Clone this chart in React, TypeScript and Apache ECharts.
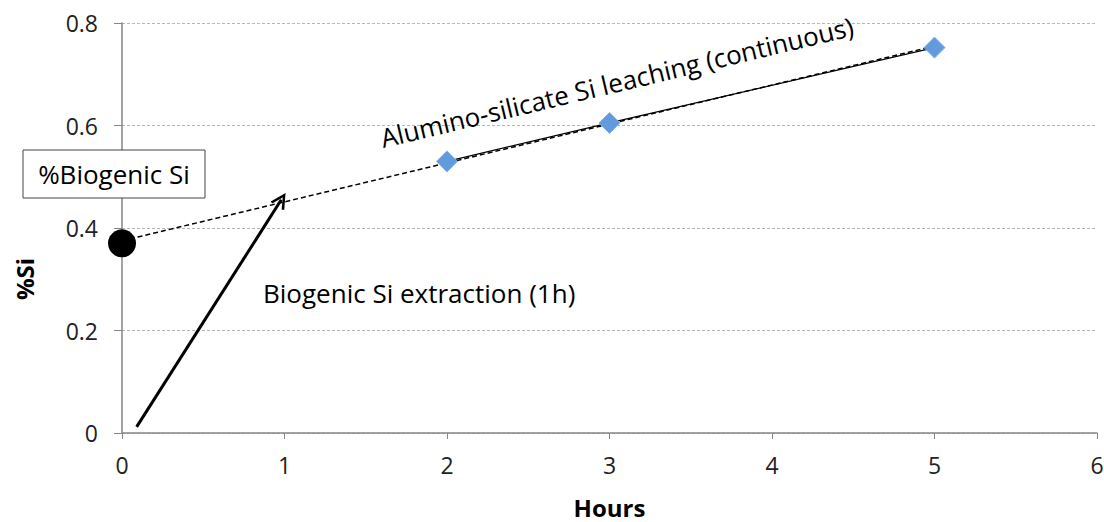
import React, { useEffect, useRef } from "react";
import * as echarts from "echarts";

const xTicks = [0, 1, 2, 3, 4, 5, 6];
const yTicks = [0, 0.2, 0.4, 0.6, 0.8];
const hours = [2, 3, 5];
const siValues = [0.53, 0.605, 0.752];
const biogenicPoint = [0, 0.37];
const trendStart = [0, 0.375];
const trendEnd = [5, 0.755];
const arrowStart = [0.09, 0.012];
const arrowEnd = [0.98, 0.455];

const FONT = "Open Sans";

export default function App() {
  const ref = useRef<HTMLDivElement>(null);
  useEffect(() => {
    if (!ref.current) return;
    const chart = echarts.init(ref.current, null, { renderer: "svg" });
    chart.setOption({
      animation: false,
      backgroundColor: "#ffffff",
      grid: { left: 122, right: 7, top: 23, bottom: 89, containLabel: false, outerBoundsMode: "none" },
      xAxis: {
        type: "value",
        min: xTicks[0],
        max: xTicks[xTicks.length - 1],
        interval: 1,
        name: "Hours",
        nameLocation: "middle",
        nameGap: 62,
        nameTextStyle: { fontFamily: FONT, fontWeight: "bold", fontSize: 24, color: "#000" },
        axisLine: { lineStyle: { color: "#868686", width: 1.5 } },
        axisTick: { show: true, length: 6, lineStyle: { color: "#868686" } },
        axisLabel: { fontFamily: FONT, fontSize: 23, color: "#222", margin: 20 },
        splitLine: { show: false },
      },
      yAxis: {
        type: "value",
        min: yTicks[0],
        max: yTicks[yTicks.length - 1],
        interval: 0.2,
        axisLine: { show: true, lineStyle: { color: "#868686", width: 1.5 } },
        axisTick: { show: true, inside: false, length: 8, lineStyle: { color: "#868686" } },
        axisLabel: {
          fontFamily: FONT,
          fontSize: 23,
          color: "#222",
          margin: 24,
          formatter: (v: number) => (v === 0 ? "0" : v.toFixed(1)),
        },
        splitLine: { show: true, lineStyle: { color: "#b5b5b5", type: [3, 2], width: 1 } },
      },
      series: [
        {
          type: "line",
          data: [trendStart, trendEnd],
          symbol: "none",
          lineStyle: { color: "#000", width: 1.5, type: [5, 3] },
          z: 3,
          markLine: {
            silent: true,
            symbol: ["none", "path://M0,12 L6,0 L12,12 L10.2,12.8 L6,4.2 L1.8,12.8 Z"],
            symbolSize: 16,
            label: { show: false },
            lineStyle: { color: "#000", width: 3, type: "solid", opacity: 1 },
            itemStyle: { color: "#000" },
            data: [[{ coord: arrowStart }, { coord: arrowEnd }]],
          },
        },
        {
          type: "line",
          data: hours.map((h, i) => [h, siValues[i]]),
          symbol: "diamond",
          symbolSize: 21,
          itemStyle: { color: "#629ade", borderColor: "#80b2ea", borderWidth: 1, opacity: 1 },
          lineStyle: { color: "#000", width: 1.2 },
          z: 4,
        },
        {
          type: "scatter",
          data: [biogenicPoint],
          symbol: "circle",
          symbolSize: 28,
          itemStyle: { color: "#000", opacity: 1 },
          z: 5,
        },
      ],
      graphic: [
        {
          type: "text",
          x: 24,
          y: 279,
          rotation: Math.PI / 2,
          style: {
            text: "%Si",
            font: `bold 24px "${FONT}"`,
            fill: "#000",
            align: "center",
            verticalAlign: "middle",
          },
        },
        {
          type: "rect",
          shape: { x: 23, y: 150, width: 182, height: 48 },
          style: { fill: "#fff", stroke: "#444", lineWidth: 1 },
          z: 10,
        },
        {
          type: "text",
          x: 114,
          y: 174,
          style: {
            text: "%Biogenic Si",
            font: `26px "${FONT}"`,
            fill: "#000",
            align: "center",
            verticalAlign: "middle",
          },
          z: 11,
        },
        {
          type: "text",
          x: 263,
          y: 293,
          style: {
            text: "Biogenic Si extraction (1h)",
            font: `26px "${FONT}"`,
            fill: "#000",
            align: "left",
            verticalAlign: "middle",
          },
          z: 11,
        },
        {
          type: "text",
          x: 617,
          y: 82,
          rotation: (13.4 * Math.PI) / 180,
          style: {
            text: "Alumino-silicate Si leaching (continuous)",
            font: `26px "${FONT}"`,
            fill: "#000",
            align: "center",
            verticalAlign: "middle",
          },
          z: 11,
        },
      ],
    });
    return () => chart.dispose();
  }, []);
  return <div ref={ref} style={{ width: 1104, height: 522, position: "absolute", left: 0, top: 0 }} />;
}
